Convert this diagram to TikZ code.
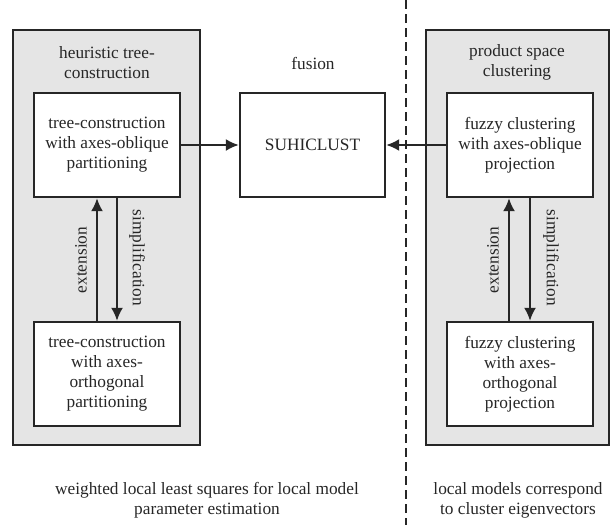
\documentclass[tikz,border=0pt]{standalone}
\usepackage{fontspec}
\setmainfont{Liberation Serif}
\usetikzlibrary{arrows.meta,calc}
\begin{document}
\begin{tikzpicture}[x=1pt,y=-1pt,
  every node/.style={font=\fontsize{17.3}{20}\selectfont, text=black!85, inner sep=0pt},
  group/.style={draw=black!85, line width=2.3pt, fill=black!10, minimum width=#1, minimum height=415pt},
  box/.style={draw=black!85, line width=2.3pt, fill=white, minimum width=146pt, minimum height=104pt, align=center},
  arr/.style={line width=2.2pt, draw=black!85, -{Latex[length=13pt,width=12pt]}},
  lbl/.style={align=center}
]
\useasboundingbox (0,0) rectangle (613,525);
% groups
\node[group=187pt] (gl) at (106.5,237.5) {};
\node[group=183pt] (gr) at (517.5,237.5) {};
% dashed separator
\coordinate (dt) at (406,0);
\coordinate (db) at (406,525);
\draw[black!85, line width=1.8pt, dash pattern=on 9pt off 5pt] (dt) -- (db);
% headings
\node[lbl] (hl) at (107,63) {heuristic tree-\\construction};
\node[lbl] (hr) at (517,62) {product space\\clustering};
\node[lbl] (hf) at (313,63) {fusion};
% boxes
\node[box] (tl) at (107,145) {tree-construction\\with axes-oblique\\partitioning};
\node[box] (bl) at (107,374) {tree-construction\\with axes-\\orthogonal\\partitioning};
\node[box, minimum width=145pt] (su) at (312.5,145) {SUHICLUST};
\node[box] (tr) at (520,145) {fuzzy clustering\\with axes-oblique\\projection};
\node[box] (br) at (520,374) {fuzzy clustering\\with axes-\\orthogonal\\projection};
% arrows to fusion
\draw[arr] (tl.east) -- (su.west);
\draw[arr] (tr.west) -- (su.east);
% left extension / simplification
\draw[arr] ($(bl.north)+(-10,0)$) -- ($(tl.south)+(-10,0)$);
\draw[arr] ($(tl.south)+(10,0)$) -- ($(bl.north)+(10,0)$);
\node[rotate=90] (el) at (81,260) {extension};
\node[rotate=-90] (sl) at (137,258) {simplification};
% right extension / simplification
\draw[arr] ($(br.north)+(-11,0)$) -- ($(tr.south)+(-11,0)$);
\draw[arr] ($(tr.south)+(10,0)$) -- ($(br.north)+(10,0)$);
\node[rotate=90] (er) at (493,260) {extension};
\node[rotate=-90] (sr) at (551,258) {simplification};
% bottom notes
\node[lbl] (nl) at (207,500) {weighted local least squares for local model\\parameter estimation};
\node[lbl] (nr) at (518,500) {local models correspond\\to cluster eigenvectors};
\end{tikzpicture}
\end{document}
